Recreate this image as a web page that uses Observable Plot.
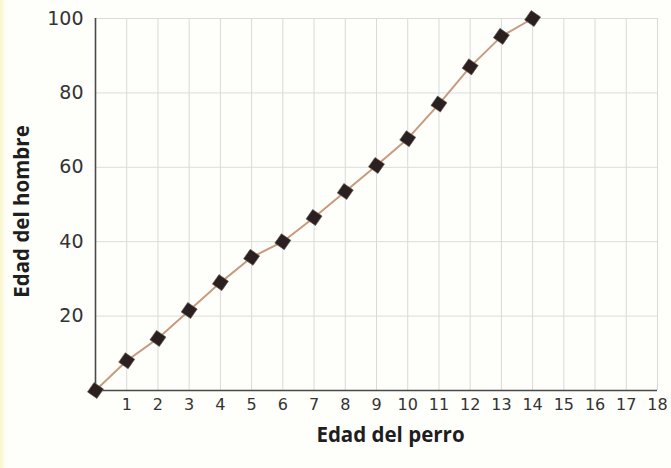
<!DOCTYPE html>
<html>
<head>
<meta charset="utf-8">
<script src="https://cdn.jsdelivr.net/npm/d3@7"></script>
<script src="https://cdn.jsdelivr.net/npm/@observablehq/plot@0.6"></script>
<style>
  html, body { margin: 0; padding: 0; background: #fefefb; }
  body { width: 671px; height: 468px; overflow: hidden;
    background: linear-gradient(to right, #fbf6c8 0px, #fefefb 6px); }
  #chart svg { display: block; }
</style>
</head>
<body>
<div id="chart"></div>
<script>
const perro = [0, 1, 2, 3, 4, 5, 6, 7, 8, 9, 10, 11, 12, 13, 14];
const hombre = [0, 8, 14, 21.5, 29, 35.8, 40, 46.5, 53.5, 60.5, 67.7, 77, 87, 95.2, 100];
const xTicks = [1, 2, 3, 4, 5, 6, 7, 8, 9, 10, 11, 12, 13, 14, 15, 16, 17, 18];
const yTicks = [20, 40, 60, 80, 100];
const xLabel = "Edad del perro";
const yLabel = "Edad del hombre";

const data = perro.map((p, i) => ({perro: p, hombre: hombre[i]}));

const chart = Plot.plot({
  width: 671,
  height: 468,
  marginLeft: 95,
  marginTop: 18,
  marginBottom: 78,
  marginRight: 14,
  style: {background: "transparent", fontFamily: "'DejaVu Sans', sans-serif"},
  x: {domain: [0, 18]},
  y: {domain: [0, 100]},
  marks: [
    Plot.gridX(xTicks, {stroke: "#d9d9d9", strokeOpacity: 1, strokeWidth: 1}),
    Plot.gridY(yTicks, {stroke: "#dcdcdc", strokeOpacity: 1, strokeWidth: 1}),
    Plot.axisX(xTicks, {tickSize: 0, tickPadding: 8, fontSize: 16, fill: "#333", label: null}),
    Plot.axisY(yTicks, {tickSize: 0, tickPadding: 12, fontSize: 19, fill: "#333", label: null}),
    Plot.ruleX([0], {stroke: "#4a4a4a", strokeWidth: 1.6}),
    Plot.ruleY([0], {stroke: "#4a4a4a", strokeWidth: 1.6}),
    Plot.line(data, {x: "perro", y: "hombre", stroke: "#c99a7e", strokeWidth: 2}),
    Plot.dot(data, {x: "perro", y: "hombre", symbol: "square", r: 6.5, rotate: 35, fill: "#2a2020", stroke: "#6b5a55", strokeWidth: 0.6}),
    Plot.text([xLabel], {frameAnchor: "bottom", textAnchor: "middle", lineAnchor: "middle", dy: 45, dx: 14, fontSize: 20.5, fontWeight: "bold", fill: "#1e1e1e", fontFamily: "'Open Sans', sans-serif"}),
    Plot.text([yLabel], {frameAnchor: "left", textAnchor: "middle", lineAnchor: "middle", dx: -73, dy: 7, rotate: -90, fontSize: 20.5, fontWeight: "bold", fill: "#1e1e1e", fontFamily: "'Open Sans', sans-serif"})
  ]
});
document.getElementById("chart").appendChild(chart);
</script>
</body>
</html>
